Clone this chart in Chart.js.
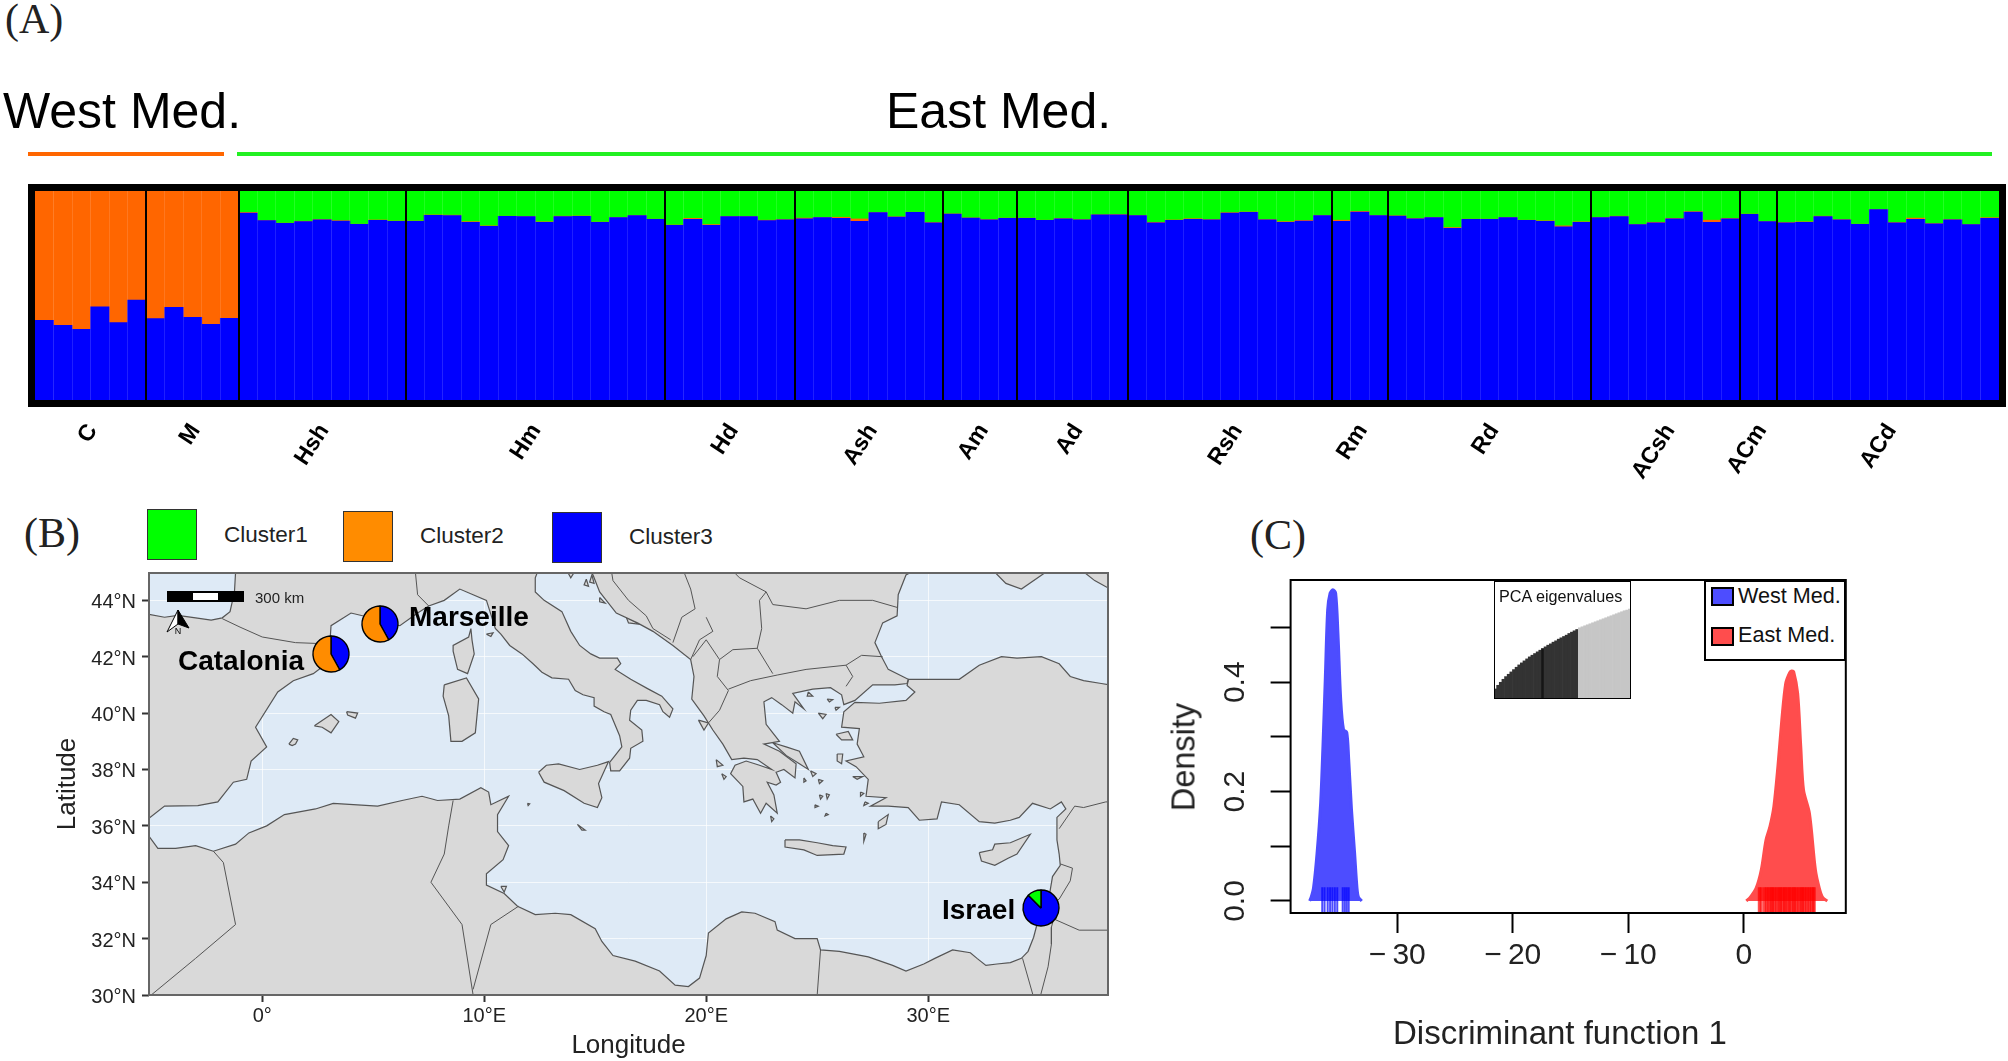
<!DOCTYPE html>
<html>
<head>
<meta charset="utf-8">
<title>Mediterranean clusters</title>
<script src="https://cdn.jsdelivr.net/npm/chart.js@4/dist/chart.umd.min.js"></script>
<style>
  html, body { margin: 0; background: #fff; }
  body { position: relative; width: 2008px; height: 1061px; overflow: hidden; font-family: "Liberation Sans", sans-serif; color: #000; }
  canvas { position: absolute; }
  .txt { position: absolute; white-space: nowrap; transform: translateY(-50%); }
  .serif { font-family: "Liberation Serif", serif; font-size: 42px; color: #222; }
  .box { position: absolute; box-sizing: border-box; }
  .site { font-weight: bold; font-size: 28px; }
</style>
</head>
<body>
<div class="txt serif" style="left:5px;top:19px">(A)</div>
<div class="txt serif" style="left:24px;top:533px">(B)</div>
<div class="txt serif" style="left:1250px;top:535px">(C)</div>

<div class="txt" style="left:3px;top:111px;font-size:50px">West Med.</div>
<div class="txt" style="left:886px;top:111px;font-size:50px">East Med.</div>
<div class="box" style="left:28px;top:152px;width:196px;height:4px;background:#ff6600"></div>
<div class="box" style="left:237px;top:152px;width:1755px;height:4px;background:#22f022"></div>

<canvas id="structure" width="2008" height="330" style="left:0;top:170px"></canvas>
<div class="box" style="left:28px;top:184px;width:1978px;height:223px;border:7px solid #000"></div>

<div class="box" style="left:147px;top:509px;width:50px;height:51px;background:#00ff00;border:1px solid #333"></div>
<div class="txt" style="left:224px;top:535px;font-size:22.5px;color:#222">Cluster1</div>
<div class="box" style="left:343px;top:511px;width:50px;height:51px;background:#ff8c00;border:1px solid #333"></div>
<div class="txt" style="left:420px;top:536px;font-size:22.5px;color:#222">Cluster2</div>
<div class="box" style="left:552px;top:512px;width:50px;height:51px;background:#0000ff;border:1px solid #333"></div>
<div class="txt" style="left:629px;top:537px;font-size:22.5px;color:#222">Cluster3</div>

<canvas id="map" width="1130" height="501" style="left:0;top:560px"></canvas>

<div class="box" style="left:167px;top:591px;width:77px;height:11px;background:#000"></div>
<div class="box" style="left:193px;top:593px;width:25px;height:7px;background:#fff"></div>
<div class="txt" style="left:255px;top:597px;font-size:15px;color:#222">300 km</div>
<svg class="box" style="left:165px;top:609px" width="26" height="26" viewBox="0 0 26 26">
  <polygon points="13,1 13,15 2,23" fill="#fff" stroke="#000"/>
  <polygon points="13,1 13,15 24,19" fill="#000" stroke="#000"/>
  <text x="13" y="25" font-size="9" text-anchor="middle" fill="#000">N</text>
</svg>

<div class="txt site" style="left:409px;top:617px">Marseille</div>
<div class="txt site" style="left:178px;top:661px">Catalonia</div>
<div class="txt site" style="left:942px;top:910px">Israel</div>

<canvas id="density" width="878" height="501" style="left:1130px;top:560px"></canvas>
<canvas id="eigen" width="137" height="118" style="left:1494px;top:581px;background:#fff"></canvas>
<div class="txt" style="left:1499px;top:596px;font-size:16.2px;color:#111">PCA eigenvalues</div>

<div class="box" style="left:1704px;top:580px;width:142px;height:81px;background:#fff;border:2px solid #000"></div>
<div class="box" style="left:1711px;top:587px;width:23px;height:19px;background:#4d4dff;border:2px solid #000"></div>
<div class="txt" style="left:1738px;top:596px;font-size:21.6px;color:#111">West Med.</div>
<div class="box" style="left:1711px;top:627px;width:23px;height:19px;background:#ff4d4d;border:2px solid #000"></div>
<div class="txt" style="left:1738px;top:635px;font-size:21.6px;color:#111">East Med.</div>

<div class="txt" style="left:1393px;top:1033px;font-size:33px;color:#222">Discriminant function 1</div>
<div class="txt" style="left:1184px;top:757px;font-size:32.5px;color:#222;transform:translate(-50%,-50%) rotate(-90deg)">Density</div>

<script>
// Panel A: ancestry bars, one per individual
const groupNames = ['C','M','Hsh','Hm','Hd','Ash','Am','Ad','Rsh','Rm','Rd','ACsh','ACm','ACd'];
const groupSizes = [6,5,9,14,7,8,4,6,11,3,11,8,2,12];
// where the end of each rotated label sits, in bar units
const groupLabelPos = [3.1,8.65,15.6,27.05,37.7,45.2,51.2,56.3,64.9,71.65,78.75,88.25,93.2,100.2];

const blueShare = [
  38.4,36.0,34.1,44.8,37.3,48.1,
  39.2,44.6,39.8,36.5,39.4,
  89.5,85.9,84.6,85.4,86.3,85.7,84.1,86.0,85.6,
  85.6,88.4,88.3,85.1,83.2,87.9,87.8,85.1,87.8,87.9,85.1,87.3,88.3,86.5,
  83.7,86.5,83.7,87.8,87.8,85.9,86.3,
  86.7,87.3,87.0,85.6,89.7,87.6,89.8,84.9,
  89.0,87.1,86.3,87.0,
  87.0,86.0,86.8,86.3,88.6,88.7,
  88.3,84.8,86.0,86.5,86.3,89.5,89.8,86.3,85.1,85.7,88.3,
  85.6,90.0,88.3,
  88.1,86.8,87.3,82.2,86.5,86.5,87.3,86.0,85.6,82.9,85.1,
  87.3,87.8,84.0,84.9,86.7,90.0,85.1,86.8,
  88.9,85.4,
  84.9,85.1,87.8,86.3,84.1,91.1,84.9,86.5,84.4,86.3,84.0,87.0
];
const orangeShare = [
  61.6,64.0,65.9,55.2,62.7,51.9,
  60.8,55.4,60.2,63.5,60.6,
  .3,.1,.1,.2,.1,.2,.1,.2,.1,
  .1,.2,.2,.3,.2,.1,.1,.2,.2,.2,.1,.1,.1,.1,
  .1,.5,.3,.1,.1,.2,.1,
  .4,.1,.5,1.1,.1,.1,.1,.1,
  .1,.1,.1,.1,
  .1,.1,.1,.1,.1,.1,
  .1,.3,.2,.3,.1,.2,.2,.1,.3,.3,.1,
  .5,.3,.1,
  .1,.1,.1,.4,.1,.1,.1,.1,.2,.5,.2,
  .1,.2,.1,.2,.3,.2,1.0,.2,
  .1,.1,
  .1,.2,.2,.1,.1,.1,.1,.6,.1,.1,.1,.3
];
const greenShare = [
  0,0,0,0,0,0,
  0,0,0,0,0,
  10.2,14.0,15.3,14.4,13.6,14.1,15.8,13.8,14.3,
  14.3,11.4,11.5,14.6,16.6,12.0,12.1,14.7,12.0,11.9,14.8,12.6,11.6,13.4,
  16.2,13.0,16.0,12.1,12.1,13.9,13.6,
  12.9,12.6,12.5,13.3,10.2,12.3,10.1,15.0,
  10.9,12.8,13.6,12.9,
  12.9,13.9,13.1,13.6,11.3,11.2,
  11.6,14.9,13.8,13.2,13.6,10.3,10.0,13.6,14.6,14.0,11.6,
  13.9,9.7,11.6,
  11.8,13.1,12.6,17.4,13.4,13.4,12.6,13.9,14.2,16.6,14.7,
  12.6,12.0,15.9,14.9,13.0,9.8,13.9,13.0,
  11.0,14.5,
  15.0,14.7,12.0,13.6,15.8,8.8,15.0,12.9,15.5,13.6,15.9,12.7
];

// Panel B: land outlines as [lon, lat]
const westEurope = [[-7,43.7],[-5.8,43.65],[-5.1,43.5],[-4.4,43.4],[-3.8,43.47],[-3,43.38],[-2.3,43.3],[-1.8,43.38],[-1.45,43.6],[-1.25,44.3],[-1.2,45],[-1.1,46],[12.3,46],[12.3,45.4],[12.4,45],[12.3,44.8],[12.3,44.3],[12.7,44],[13.5,43.6],[13.9,42.9],[14.3,42.4],[14.8,42.1],[15.2,41.95],[16,41.95],[16.15,41.75],[15.9,41.55],[16.6,41.2],[17.4,40.85],[18,40.6],[18.5,40.15],[18.35,39.85],[18.05,40.05],[17.9,40.3],[17.3,40.45],[16.9,40.45],[16.6,40.1],[16.55,39.75],[17.1,39.4],[17.15,39],[16.6,38.75],[16.55,38.4],[16.1,37.95],[15.7,37.95],[15.65,38.25],[15.9,38.5],[16.2,38.8],[16.1,39.2],[15.7,39.95],[15.4,40.05],[14.95,40.25],[14.95,40.55],[14.45,40.65],[14.1,40.8],[13.8,41.2],[13.05,41.25],[12.6,41.45],[12.2,41.75],[11.7,42.1],[11.15,42.4],[10.75,42.8],[10.5,43],[10.3,43.5],[10.1,44],[9.5,44.2],[8.9,44.4],[8.2,44],[7.5,43.8],[7,43.55],[6.2,43.1],[5.4,43.25],[4.8,43.4],[4,43.55],[3.1,43.1],[3.05,42.5],[3.2,42.3],[3.15,41.9],[2.3,41.4],[1.4,41.15],[0.7,40.75],[-0.3,39.5],[0.2,38.8],[-0.5,38.3],[-0.7,37.65],[-1.3,37.55],[-2,36.85],[-2.9,36.72],[-4.4,36.7],[-5.3,36.15],[-5.6,36],[-6.3,36.6],[-7,37]];
const balkans = [[13.6,46],[13.6,45.7],[13.85,45.55],[13.55,45.3],[13.9,44.8],[14.3,45.3],[14.9,44.9],[15.2,44.3],[15.95,43.55],[16.9,43.2],[17.6,42.9],[18.5,42.4],[19.3,41.9],[19.45,41.3],[19.35,40.5],[19.9,39.9],[20.3,39.4],[20.75,38.9],[21.15,38.35],[21.7,38.4],[22.3,38.35],[22.95,38.0],[22.4,38.15],[21.8,38.3],[21.3,38.15],[21.1,37.85],[21.65,37.4],[21.7,36.85],[22.1,36.95],[22.45,36.45],[22.7,36.8],[23.2,36.45],[23.05,37.1],[22.75,37.55],[23.15,37.45],[23.35,37.55],[23.15,37.9],[23.5,38],[24,37.7],[24.05,38.2],[23.3,38.65],[22.6,38.9],[23.3,39],[23,39.3],[22.7,39.6],[22.6,40.4],[22.95,40.55],[23.4,40.3],[23.9,40],[24,40.4],[24.4,40.15],[23.9,40.7],[24.8,40.85],[25.6,40.9],[26.1,40.65],[26.2,40.3],[26.7,40.45],[27.5,41],[28.5,41],[29.05,41.05],[29.1,41.2],[28.2,41.55],[27.9,42],[27.6,42.5],[27.95,43.2],[28.6,43.45],[28.65,44.2],[29,44.9],[29.7,45.2],[30,46]];
const asiaAfrica = [[29.1,41.15],[29.05,40.98],[29.4,40.75],[29,40.45],[27.8,40.35],[26.7,40.38],[26.2,40.05],[26.1,39.5],[26.9,39.45],[26.8,38.9],[27.1,38.45],[26.3,38.3],[26.75,38.1],[27.3,37.65],[27.2,37.05],[28.1,37],[27.4,36.7],[28.2,36.7],[29.1,36.65],[29.6,36.2],[30.4,36.25],[30.6,36.85],[31.4,36.75],[32.3,36.15],[33,36.1],[33.7,36.2],[34.1,36.3],[34.7,36.8],[35.5,36.6],[36,36.85],[36.2,36.6],[35.8,36.3],[35.8,35.5],[35.9,35],[35.95,34.6],[35.6,34.2],[35.45,33.5],[35.1,33],[34.9,32.5],[34.75,32.05],[34.5,31.55],[34.2,31.3],[33.7,31.15],[33.1,31.1],[32.6,31.05],[32.2,31.3],[31.9,31.5],[31.1,31.6],[30.3,31.3],[29.8,31.1],[29,30.85],[28.4,31.05],[27.3,31.35],[26,31.55],[25.15,31.6],[25,32],[24,32],[23.2,32.3],[23.1,32.6],[22.2,32.9],[21.6,32.95],[20.9,32.7],[20.1,32.2],[20,31.4],[19.7,30.6],[19.2,30.3],[18.6,30.35],[17.9,30.85],[16.8,31.2],[15.8,31.4],[15.3,31.9],[15,32.35],[13.9,32.85],[13.2,32.9],[12.3,32.85],[11.5,33.15],[10.9,33.6],[10.1,33.9],[10.1,34.3],[10.85,34.8],[11.1,35.3],[10.6,35.8],[10.6,36.4],[11.1,37.05],[10.3,36.75],[10.2,37.2],[9.85,37.35],[8.9,36.95],[7.9,36.9],[7.2,37.05],[6.3,36.9],[5.2,36.7],[3.2,36.8],[2.4,36.6],[1,36.4],[0.2,36],[-0.6,35.75],[-1.2,35.35],[-2.2,35.1],[-3,35.3],[-3.9,35.2],[-4.7,35.2],[-5.35,35.9],[-6,35.8],[-7,35],[-7,29],[40,29],[40,41],[38.5,40.95],[37.8,41.05],[37,41.15],[36.4,41.3],[35.9,41.75],[35.1,42],[34,41.95],[33.3,42],[32.3,41.7],[31.4,41.2],[30.3,41.2],[29.1,41.2]];
const islands = [
  [[2.35,39.55],[3.1,39.95],[3.45,39.7],[3.1,39.3],[2.7,39.5]],
  [[3.8,40.05],[4.3,40],[4.2,39.82],[3.85,39.93]],
  [[1.2,38.9],[1.4,39.1],[1.6,39.05],[1.5,38.9],[1.35,38.85]],
  [[9.4,43],[9.45,42.6],[9.55,42.1],[9.25,41.4],[8.8,41.55],[8.6,42.2],[8.6,42.4],[9.3,42.7]],
  [[8.2,41],[9.2,41.25],[9.75,40.5],[9.6,39.3],[9,39],[8.5,39],[8.4,39.9],[8.15,40.6]],
  [[12.45,37.9],[12.8,38.15],[13.35,38.2],[14.3,38],[15.1,38.15],[15.6,38.28],[15.15,37.5],[15.3,37],[15.1,36.65],[14.5,36.8],[13.6,37.25],[12.7,37.55]],
  [[23.55,35.5],[24.2,35.5],[25,35.4],[25.7,35.3],[26.3,35.25],[26.2,35],[25,34.95],[24.4,35.15],[23.55,35.25]],
  [[32.3,35.05],[32.9,35.15],[33,35.35],[33.7,35.4],[34.6,35.7],[34,35],[33.6,34.85],[33,34.6],[32.4,34.75]],
  [[23,38.95],[23.6,38.8],[24.2,38.65],[24.6,38],[24.2,38.2],[23.6,38.5]],
  [[27.75,36.15],[28.2,36.4],[28.1,36.05],[27.75,35.9]],
  [[25.85,39.25],[26.4,39.35],[26.6,39.05],[26.1,39.05]],
  [[25.9,38.55],[26.15,38.55],[26.1,38.2],[25.9,38.3]],
  [[26.6,37.75],[27.05,37.75],[26.8,37.65]],
  [[25.05,40],[25.4,39.95],[25.25,39.8]],
  [[24.6,40.75],[24.8,40.6],[24.55,40.6]],
  [[25.45,40.5],[25.7,40.48],[25.55,40.4]],
  [[25.8,40.2],[26,40.2],[25.85,40.1]],
  [[19.65,39.75],[20.1,39.65],[19.9,39.4]],
  [[20.45,38.35],[20.75,38.15],[20.5,38.1]],
  [[20.7,37.85],[20.9,37.75],[20.8,37.65]],
  [[25.4,37.15],[25.55,37.1],[25.45,36.95]],
  [[24.7,37.95],[24.95,37.85],[24.8,37.75]],
  [[25.1,37.1],[25.25,37.05],[25.15,36.95]],
  [[25.05,37.65],[25.25,37.6],[25.1,37.5]],
  [[24.4,37.7],[24.5,37.6],[24.4,37.55]],
  [[24.9,36.75],[25.05,36.7],[24.9,36.65]],
  [[25.4,36.45],[25.5,36.4],[25.35,36.35]],
  [[26.95,37.2],[27.1,37.15],[26.95,37.05]],
  [[27.15,36.85],[27.3,36.8],[27.1,36.72]],
  [[27.1,35.75],[27.2,35.7],[27.1,35.45]],
  [[22.9,36.35],[23.05,36.25],[22.95,36.15]],
  [[10.1,42.8],[10.4,42.85],[10.3,42.72]],
  [[14.2,36.05],[14.55,35.85],[14.4,35.85]],
  [[10.75,33.85],[11,33.85],[10.9,33.65]],
  [[11.95,36.8],[12.05,36.78],[11.98,36.72]],
  [[14.85,44.9],[14.95,44.6],[14.75,44.65]],
  [[14.6,44.75],[14.7,44.5],[14.5,44.55]],
  [[15.2,44.1],[15.45,43.9],[15.2,43.95]],
  [[16.4,43.4],[17,43.15],[16.5,43.2]],
  [[32.5,45.4],[33.5,44.6],[34.2,44.4],[35.3,45],[36.5,45.1],[36.6,45.6],[34.5,46],[32,46.5]],
  [[36.7,45.2],[37.5,44.7],[38.2,44.4],[39,44],[40,43.5],[40,46],[37,46]]
];
const borderLines = [
  [[-1.8,43.35],[-1,43.05],[0,42.7],[1.5,42.5],[3.15,42.45]],
  [[7.5,43.8],[7,44.2],[6.9,45],[6.9,46]],
  [[13.6,45.5],[14.6,45.6],[15.5,45.85],[15.7,46]],
  [[15.7,45.2],[15.8,44.7],[16.5,44],[17.3,43.45],[17.6,43],[18.4,42.6]],
  [[15.7,45.2],[16.9,45.2],[19,45]],
  [[19,45],[19.3,44.4],[19.5,43.7],[18.9,43.4],[18.5,42.5]],
  [[19.3,41.9],[19.7,42.6],[20.3,42.9],[20,43.4]],
  [[19.4,42],[20,42.6],[20.6,41.9],[20.5,41.3],[21,40.8],[20.6,40.1],[20.1,39.65]],
  [[21,40.85],[22,41.15],[23.2,41.35],[24.5,41.55],[26.3,41.7],[26.6,41.3],[26.3,40.95]],
  [[20.6,41.9],[21.2,42.25],[22.3,42.3],[23,41.4]],
  [[22.3,42.3],[22.5,43],[22.4,44],[22.7,44.3],[23,43.85],[24.5,43.7],[26,44],[27.5,44],[28.6,43.75]],
  [[26.3,41.7],[27,42.05],[27.95,42]],
  [[22.7,44.3],[21.5,44.8],[21,45.2],[20.3,46]],
  [[35.9,35.9],[36.6,36.7],[37,36.65],[38,36.85],[40,36.85]],
  [[35.95,34.65],[36.5,34.5],[36.4,34.05],[35.9,33.4],[35.6,33.25]],
  [[35.1,33.1],[35.6,33.25],[35.65,32.7],[35.55,32.4],[35.55,31.8],[35.4,31],[34.9,29.5]],
  [[34.25,31.3],[34.9,29.5]],
  [[35.65,32.7],[36.8,32.3],[39,32.3],[41,34.5]],
  [[25.15,31.6],[25,30],[25,29]],
  [[8.6,36.9],[8.4,36],[8.2,35],[7.6,34],[9,32.5],[9.5,30]],
  [[11.55,33.15],[10.3,32.5],[9.5,30.2]],
  [[-2.2,35.1],[-1.75,34.7],[-1.2,32.5],[-3,31.3],[-5,30]]
];
const lonTicks = [0,10,20,30];
const lonLabels = ['0°','10°E','20°E','30°E'];
const latTicks = [30,32,34,36,38,40,42,44];
const latLabels = ['30°N','32°N','34°N','36°N','38°N','40°N','42°N','44°N'];

// pies: blue share, orange share, green share
const pieSites = ['Catalonia','Marseille','Israel'];
const pieLon = [3.09,5.3,35.1];
const pieLat = [42.09,43.16,33.07];
const pieBlue = [42,42,87.5];
const pieOrange = [58,58,0];
const pieGreen = [0,0,12.5];

// Panel C: density curves and rug marks
const westX = [-37.6,-37.46,-37.26,-36.95,-36.64,-36.44,-36.23,-36.03,-35.82,-35.58,-35.34,-35.14,-34.9,-34.66,-34.38,-34.21,-33.97,-33.7,-33.49,-33.36,-33.08];
const westDensity = [0,.0067,.0232,.0872,.1787,.2823,.4104,.5323,.5628,.569,.5628,.4891,.3677,.3134,.3085,.2591,.1677,.0884,.0232,.0067,0];
const eastX = [.21,.55,1.06,1.51,1.92,2.26,2.6,2.95,3.29,3.63,3.97,4.14,4.32,4.66,4.93,5.17,5.68,6.2,6.54,6.82,7.23];
const eastDensity = [0,.0067,.0232,.0567,.1116,.136,.1726,.2457,.3311,.3982,.4177,.4207,.4189,.3799,.2823,.203,.1604,.0567,.0232,.0067,0];
const westRug = [-36.5,-36.3,-36.03,-35.82,-35.62,-35.41,-35.2,-34.73,-34.55,-34.38,-34.21];
const eastRug = [1.34,1.51,1.78,1.95,2.1,2.25,2.4,2.5,2.65,2.8,2.95,3.1,3.2,3.35,3.5,3.6,3.75,3.9,4,4.15,4.3,4.4,4.55,4.7,4.85,5,5.1,5.25,5.4,5.55,5.7,5.85,6,6.1];
const densityTicks = [0,.1,.2,.3,.4,.5];
const densityLabels = ['0.0','','0.2','','0.4',''];
const dfTicks = [-30,-20,-10,0];
const dfLabels = ['\u2212\u200930','\u2212\u200920','\u2212\u200910','0'];
const eigenValues = [30,41,50,59,67,74,81,88,95,102,108,114,120,126,131,136,141,146,151,156,161,165,170,174,179,183,187,191,196,200,204,208,213,216,219,222,225,228,231,234,237,240,243,246,249,252,255,258,261,264,266,269];

Chart.defaults.animation = false;
Chart.defaults.font.family = '"Liberation Sans", sans-serif';
Chart.defaults.events = [];
Chart.defaults.plugins.legend.display = false;
Chart.defaults.plugins.tooltip.enabled = false;

// draws the box round the plot area
function framePlugin(color, width) {
  return {
    id: 'frame',
    afterDatasetsDraw(chart) {
      const a = chart.chartArea;
      const ctx = chart.ctx;
      ctx.save();
      ctx.strokeStyle = color;
      ctx.lineWidth = width;
      ctx.strokeRect(a.left, a.top, a.right - a.left, a.bottom - a.top);
      ctx.restore();
    }
  };
}

// fixed axis thickness and no label overflow, so the plot area lands where it should
function fixAxis(size) {
  return s => {
    if (s.isHorizontal()) s.height = size; else s.width = size;
    s.paddingLeft = s.paddingRight = s.paddingTop = s.paddingBottom = 0;
  };
}

// ---------- Panel A ----------
const barLabels = [];
const groupStarts = [];
groupSizes.forEach((size, g) => {
  groupStarts.push(barLabels.length);
  for (let i = 0; i < size; i++) barLabels.push(groupNames[g]);
});

new Chart(document.getElementById('structure'), {
  type: 'bar',
  data: {
    labels: barLabels,
    datasets: [
      { label: 'Cluster3', data: blueShare, backgroundColor: '#0000ff', stack: 's' },
      { label: 'Cluster2', data: orangeShare, backgroundColor: '#ff6600', stack: 's' },
      { label: 'Cluster1', data: greenShare, backgroundColor: '#00ff00', stack: 's' }
    ]
  },
  options: {
    responsive: false,
    layout: { padding: { left: 35, right: 9, top: 21 } },
    datasets: { bar: { barPercentage: 1, categoryPercentage: 1 } },
    scales: {
      x: {
        stacked: true,
        border: { display: false },
        ticks: { display: false, autoSkip: false },
        grid: {
          z: 1,
          drawTicks: false,
          lineWidth: ctx => groupStarts.includes(ctx.index) && ctx.index > 0 ? 2 : 1,
          color: ctx => {
            if (ctx.index === undefined || ctx.index === 0) return 'transparent';
            return groupStarts.includes(ctx.index) ? '#000' : 'rgba(255,255,255,0.12)';
          }
        },
        afterFit: fixAxis(0)
      },
      groups: {
        type: 'linear',
        position: 'bottom',
        offset: false,
        min: 0,
        max: 106,
        border: { display: false },
        grid: { display: false, offset: false },
        afterBuildTicks: s => { s.ticks = groupLabelPos.map(v => ({ value: v })); },
        ticks: {
          autoSkip: false,
          padding: 10,
          minRotation: 57,
          maxRotation: 57,
          color: '#000',
          font: { size: 23, weight: 'bold' },
          callback: (v, i) => groupNames[i]
        },
        afterFit: fixAxis(99)
      },
      y: { display: false, stacked: true, min: 0, max: 100 }
    }
  }
});

// ---------- Panel B ----------
const closeRing = pts => pts.concat([pts[0]]);
const landStyle = { showLine: true, fill: 'shape', backgroundColor: '#d9d9d9', borderColor: '#555', borderWidth: 1.2, pointRadius: 0, tension: 0 };
const mapDatasets = [];
// the first dataset is painted last, so the borders go in front of the land
borderLines.forEach(pts => {
  mapDatasets.push({ data: pts, showLine: true, fill: false, borderColor: '#555', borderWidth: 1, pointRadius: 0, tension: 0 });
});
[westEurope, balkans, asiaAfrica].concat(islands).forEach(pts => {
  mapDatasets.push(Object.assign({ data: closeRing(pts) }, landStyle));
});

const mapChart = new Chart(document.getElementById('map'), {
  type: 'scatter',
  data: { datasets: mapDatasets },
  plugins: [
    {
      id: 'sea',
      beforeDraw(chart) {
        const a = chart.chartArea;
        chart.ctx.fillStyle = '#deeaf6';
        chart.ctx.fillRect(a.left, a.top, a.right - a.left, a.bottom - a.top);
      }
    },
    framePlugin('#666', 2)
  ],
  options: {
    responsive: false,
    layout: { padding: { top: 13, right: 22 } },
    scales: {
      x: {
        type: 'linear', min: -5.1, max: 38.1,
        border: { display: false },
        afterBuildTicks: s => { s.ticks = lonTicks.map(v => ({ value: v })); },
        grid: { color: 'rgba(255,255,255,0.7)', lineWidth: 1, tickColor: '#333', tickLength: 7, tickWidth: 2 },
        ticks: { maxRotation: 0, padding: 2.5, color: '#222', font: { size: 20 }, callback: (v, i) => lonLabels[i] },
        title: { display: true, text: 'Longitude', color: '#222', font: { size: 26 }, padding: { top: 0, bottom: 0 } },
        afterFit: fixAxis(66)
      },
      y: {
        type: 'linear', min: 30, max: 44.97,
        border: { display: false },
        afterBuildTicks: s => { s.ticks = latTicks.map(v => ({ value: v })); },
        grid: { color: 'rgba(255,255,255,0.7)', lineWidth: 1, tickColor: '#333', tickLength: 7, tickWidth: 2 },
        ticks: { padding: 6, labelOffset: 2.5, color: '#222', font: { size: 20 }, callback: (v, i) => latLabels[i] },
        title: { display: true, text: 'Latitude', color: '#222', font: { size: 26 }, padding: { top: 52, bottom: 0 } },
        afterFit: fixAxis(149)
      }
    }
  }
});

// one small pie per site, placed through the map's own scales
pieSites.forEach((site, i) => {
  const size = 44;
  const c = document.createElement('canvas');
  c.width = size;
  c.height = size;
  c.style.left = (mapChart.scales.x.getPixelForValue(pieLon[i]) - size / 2) + 'px';
  c.style.top = (560 + mapChart.scales.y.getPixelForValue(pieLat[i]) - size / 2) + 'px';
  document.body.appendChild(c);
  new Chart(c, {
    type: 'pie',
    data: {
      labels: ['Cluster3', 'Cluster2', 'Cluster1'],
      datasets: [{
        data: [pieBlue[i], pieOrange[i], pieGreen[i]],
        backgroundColor: ['#0000ff', '#ff8c00', '#00ff00'],
        borderColor: '#000',
        borderWidth: 1.4,
        borderAlign: 'center'
      }]
    },
    options: { responsive: false, radius: 18, layout: { padding: 0 } }
  });
});

// ---------- Panel C ----------
const rugPoints = xs => xs.map(x => ({ x: x, y: 0.0012 }));
new Chart(document.getElementById('density'), {
  type: 'scatter',
  data: {
    datasets: [
      // rugs first so they are painted over the filled curves
      { data: rugPoints(westRug), pointStyle: 'line', pointRotation: 90, pointRadius: 13, pointBorderWidth: 2, pointBorderColor: 'rgba(0,0,255,0.7)' },
      { data: rugPoints(eastRug), pointStyle: 'line', pointRotation: 90, pointRadius: 13, pointBorderWidth: 3, pointBorderColor: 'rgba(255,0,0,0.7)' },
      { data: westX.map((x, i) => ({ x: x, y: westDensity[i] })), showLine: true, fill: 'origin', tension: 0.3, pointRadius: 0, borderWidth: 3, borderColor: '#4d4dff', backgroundColor: '#4d4dff' },
      { data: eastX.map((x, i) => ({ x: x, y: eastDensity[i] })), showLine: true, fill: 'origin', tension: 0.3, pointRadius: 0, borderWidth: 3, borderColor: '#ff4d4d', backgroundColor: '#ff4d4d' }
    ]
  },
  plugins: [framePlugin('#000', 2)],
  options: {
    responsive: false,
    layout: { padding: { top: 20, right: 162.2 } },
    scales: {
      x: {
        type: 'linear', min: -39.24, max: 8.83,
        border: { display: false },
        afterBuildTicks: s => { s.ticks = dfTicks.map(v => ({ value: v })); },
        grid: { drawOnChartArea: false, tickColor: '#000', tickLength: 20, tickWidth: 2 },
        ticks: { maxRotation: 0, padding: 5, color: '#222', font: { size: 30 }, callback: (v, i) => dfLabels[i] },
        afterFit: fixAxis(148)
      },
      y: {
        type: 'linear', min: -0.022, max: 0.587,
        border: { display: false },
        afterBuildTicks: s => { s.ticks = densityTicks.map(v => ({ value: v })); },
        grid: { drawOnChartArea: false, tickColor: '#000', tickLength: 20, tickWidth: 2 },
        ticks: { minRotation: 90, crossAlign: 'center', padding: 14, color: '#222', font: { size: 30 }, callback: (v, i) => densityLabels[i] },
        afterFit: fixAxis(160.6)
      }
    }
  }
});

// PCA eigenvalue inset
new Chart(document.getElementById('eigen'), {
  type: 'bar',
  data: {
    labels: eigenValues.map((v, i) => i + 1),
    datasets: [{
      data: eigenValues,
      barPercentage: 1,
      categoryPercentage: 1,
      backgroundColor: eigenValues.map((v, i) => i === 18 ? '#151515' : (i < 32 ? '#333333' : '#c6c6c6'))
    }]
  },
  plugins: [framePlugin('#000', 2)],
  options: {
    responsive: false,
    scales: {
      x: { display: false },
      y: { display: false, min: 0, max: 353 }
    }
  }
});
</script>
</body>
</html>
